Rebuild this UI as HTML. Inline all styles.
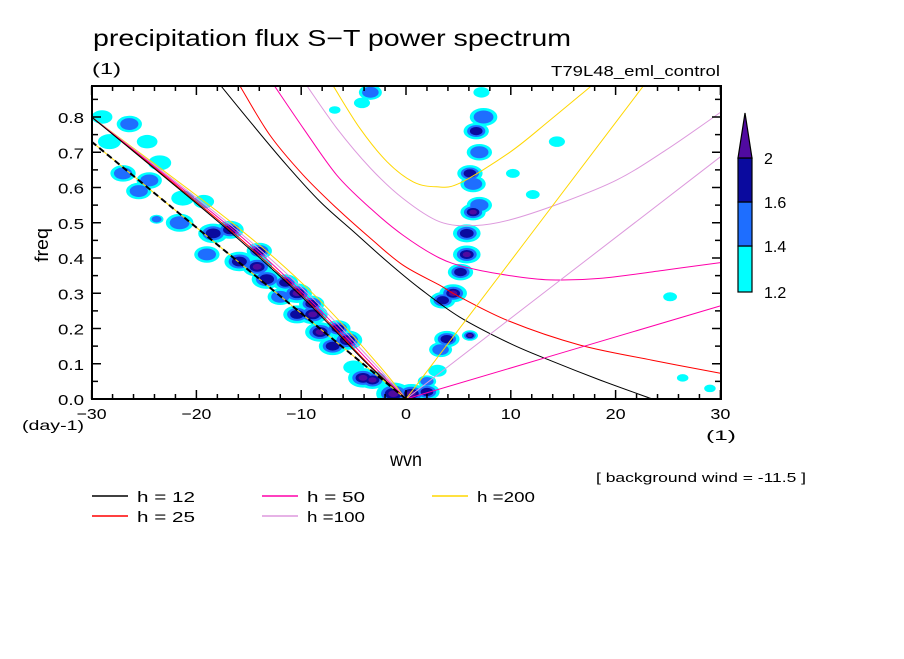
<!DOCTYPE html>
<html><head><meta charset="utf-8"><style>
body{margin:0;background:#fff;}
svg text{font-family:"Liberation Sans","DejaVu Sans",sans-serif;fill:#000;}
</style></head><body>
<svg id="chart" width="904" height="654" viewBox="0 0 904 654" xmlns="http://www.w3.org/2000/svg">
<rect width="904" height="654" fill="#fff"/>
<text x="93" y="46" font-size="23" textLength="478" lengthAdjust="spacingAndGlyphs">precipitation flux S−T power spectrum</text>
<text x="92" y="74" font-size="16" textLength="29" lengthAdjust="spacingAndGlyphs">(1)</text>
<text x="551" y="76" font-size="15" textLength="169" lengthAdjust="spacingAndGlyphs">T79L48_eml_control</text>
<clipPath id="pc"><rect x="92" y="86" width="629" height="313"/></clipPath>
<g id="blobs" clip-path="url(#pc)"></g>
<g id="curves" clip-path="url(#pc)"></g>
<g id="axes"></g>
<text x="48" y="245" font-size="18" transform="rotate(-90 48 245)" text-anchor="middle" textLength="34" lengthAdjust="spacingAndGlyphs">freq</text>
<text x="22" y="430" font-size="14" textLength="62" lengthAdjust="spacingAndGlyphs">(day-1)</text>
<text x="706" y="440" font-size="14" textLength="30" lengthAdjust="spacingAndGlyphs">(1)</text>
<text x="390" y="466" font-size="19" textLength="32" lengthAdjust="spacingAndGlyphs">wvn</text>
<text x="596" y="482" font-size="13" textLength="210" lengthAdjust="spacingAndGlyphs">[ background wind = -11.5 ]</text>
<g id="legend"></g>
<g id="colorbar"></g>
</svg>
<script>
const NS="http://www.w3.org/2000/svg";
const xTicks=[-30,-20,-10,0,10,20,30];
const yTicks=[0,0.1,0.2,0.3,0.4,0.5,0.6,0.7,0.8];
const yTickLabels=["0.0","0.1","0.2","0.3","0.4","0.5","0.6","0.7","0.8"];
const xTickLabels=["−30","−20","−10","0","10","20","30"];
// contour blobs: wavenumber, frequency, level (1..4), size
const blobK=[-29,-28.3,-26.4,-27,-24.5,-24.7,-23.5,-25.5,-21.3,-19.3,-23.8,-21.6,-18.4,-19,-16.8,-15.9,-14.2,-13.3,-12,-10.4,-10.4,-8.9,-8.2,-7,-5.6,-5,-4.1,-3.2,-1.2,0.5,2,-3.4,-4.2,-6.8,7.2,7.4,6.7,7,6.1,6.4,7,6.4,5.8,5.8,5.2,4.5,3.5,3.9,3.3,6.1,3,2,14.4,12.1,10.2,25.2,29,26.4,-11.5,-14,-9,-6.5];
const blobF=[0.8,0.73,0.78,0.64,0.62,0.73,0.67,0.59,0.57,0.56,0.51,0.5,0.47,0.41,0.48,0.39,0.375,0.34,0.29,0.3,0.24,0.24,0.19,0.15,0.167,0.09,0.06,0.054,0.015,0.015,0.02,0.87,0.84,0.82,0.87,0.8,0.76,0.7,0.64,0.61,0.55,0.53,0.47,0.41,0.36,0.3,0.28,0.17,0.14,0.18,0.08,0.05,0.73,0.58,0.64,0.29,0.03,0.06,0.33,0.42,0.27,0.2];
const blobLvl=[1,1,2,2,2,1,1,2,1,1,2,2,3,2,3,3,4,3,2,4,3,4,4,3,4,1,4,4,4,4,3,2,1,1,1,2,3,2,3,2,2,4,3,4,3,4,3,3,2,4,1,2,1,1,1,1,1,1,3,3,3,3];
const blobSize=[9,10,11,11,11,9,10,11,10,9,6,12,13,11,12,13,13,13,11,13,12,13,13,12,13,9,13,12,15,13,11,10,7,5,7,12,11,11,11,11,11,11,12,12,11,12,11,11,10,7,8,8,7,6,6,6,5,5,11,11,11,11];
// dispersion curves
const h12UpK=[-17.6,-14.6,-11.4,-8.2,-5,-1.8,1.3,5.1,9.9,13.7,18.5,23.5,25];
const h12UpF=[0.886,0.777,0.664,0.56,0.475,0.39,0.314,0.233,0.158,0.11,0.054,0,-0.015];
const h25UpK=[-15.8,-13,-9.8,-6.6,-3.4,-0.3,3.2,5.1,9.9,16.6,23.5,30];
const h25UpF=[0.886,0.749,0.635,0.541,0.456,0.38,0.323,0.29,0.22,0.153,0.11,0.073];
const h50UpK=[-12.5,-9.8,-6.6,-3.4,-0.3,3.2,6,9.9,13.7,18.5,24.8,30];
const h50UpF=[0.886,0.768,0.635,0.541,0.465,0.4,0.372,0.35,0.338,0.342,0.366,0.387];
const h100UpK=[-9.4,-6.6,-3.4,-0.3,3.2,6.5,9.9,14.7,20.1,24.8,30];
const h100UpF=[0.886,0.768,0.655,0.569,0.503,0.492,0.508,0.555,0.621,0.706,0.813];
const h200UpK=[-6.9,-4.4,-1.8,0.7,2.9,5.1,9.9,13.7,17.6];
const h200UpF=[0.886,0.768,0.673,0.616,0.602,0.612,0.7,0.79,0.886];
const kelvinK=[0,30];
const h50KelF=[0,0.264];
const h100KelF=[0,0.687];
const h200KelK=[0,22.6];
const h200KelF=[0,0.886];
const westK=[-30,-17.8,-10.3,-3.7,0];
const h12WestF=[0.8,0.5,0.3,0.1,0];
const h25WestK=[-30,-17.6,-10.1,-3.6,0];
const h50WestK=[-30,-17.3,-9.8,-3.3,0];
const h100WestK=[-30,-17,-9.4,-3,0];
const h200WestK=[-30,-16.6,-8.9,-2.7,0];
const advK=[-30,0];
const advF=[0.73,0];
const levels=[1.2,1.4,1.6,2];
const levelColors=["#00ffff","#1e6eff","#0a0a9e","#500aa0"];

const X=k=>406+k*10.48;
const Y=f=>399-f*352.5;
function mk(tag,attrs,parent){const e=document.createElementNS(NS,tag);for(const a in attrs)e.setAttribute(a,attrs[a]);parent.appendChild(e);return e;}

const bg=document.getElementById('blobs');
for(let L=1;L<=4;L++){
  const scale=[0,1,0.72,0.5,0.3][L];
  for(let i=0;i<blobK.length;i++){
    if(blobLvl[i]<L)continue;
    const e=mk('ellipse',{cx:X(blobK[i]),cy:Y(blobF[i]),rx:blobSize[i]*scale*1.15,ry:blobSize[i]*scale*0.75,fill:levelColors[L-1]},bg);
    
    
  }
}
const cg=document.getElementById('curves');
function line(ks,fs,color,w,dash,name){
  const P=ks.map((k,i)=>[X(k),Y(fs[i])]);
  let d='M'+P[0][0].toFixed(1)+' '+P[0][1].toFixed(1);
  for(let i=0;i<P.length-1;i++){
    const p0=P[Math.max(i-1,0)],p1=P[i],p2=P[i+1],p3=P[Math.min(i+2,P.length-1)];
    const c1=[p1[0]+(p2[0]-p0[0])/6,p1[1]+(p2[1]-p0[1])/6];
    const c2=[p2[0]-(p3[0]-p1[0])/6,p2[1]-(p3[1]-p1[1])/6];
    d+=' C'+c1[0].toFixed(1)+' '+c1[1].toFixed(1)+' '+c2[0].toFixed(1)+' '+c2[1].toFixed(1)+' '+p2[0].toFixed(1)+' '+p2[1].toFixed(1);
  }
  const p=mk('path',{d:d,fill:'none',stroke:color,'stroke-width':w},cg);
  if(dash)p.setAttribute('stroke-dasharray',dash);
  
  
}
const C={h12:'#000000',h25:'#ff0000',h50:'#ff00aa',h100:'#dd99dd',h200:'#ffd700'};
line(h200WestK,h12WestF,C.h200,1,null,'h200-rossby');
line(h100WestK,h12WestF,C.h100,1,null,'h100-rossby');
line(h50WestK,h12WestF,C.h50,1,null,'h50-rossby');
line(h25WestK,h12WestF,C.h25,1,null,'h25-rossby');
line(westK,h12WestF,C.h12,1,null,'h12-rossby');
line(advK,advF,'#ffd700',1,null,'advection-line-under');
line(advK,advF,'#000',2,'6,4','advection-line');
line(h12UpK,h12UpF,C.h12,1,null,'h12-gravity');
line(h25UpK,h25UpF,C.h25,1,null,'h25-gravity');
line(h50UpK,h50UpF,C.h50,1,null,'h50-gravity');
line(h100UpK,h100UpF,C.h100,1,null,'h100-gravity');
line(h200UpK,h200UpF,C.h200,1,null,'h200-gravity');
line(kelvinK,h50KelF,C.h50,1,null,'h50-kelvin');
line(kelvinK,h100KelF,C.h100,1,null,'h100-kelvin');
line(h200KelK,h200KelF,C.h200,1,null,'h200-kelvin');

const ag=document.getElementById('axes');
const fr=mk('rect',{x:92,y:86,width:629,height:313,fill:'none',stroke:'#000','stroke-width':2},ag);


for(let k=-30;k<=30;k+=2){
  const len=(k%10===0)?9:5;
  mk('line',{x1:X(k),x2:X(k),y1:399,y2:399-len,stroke:'#000','stroke-width':1.5},ag);
  mk('line',{x1:X(k),x2:X(k),y1:86,y2:86+len,stroke:'#000','stroke-width':1.5},ag);
}
for(let j=0;j<=17;j++){
  const f=j*0.05,len=(j%2===0)?9:6;
  mk('line',{x1:92,x2:92+len,y1:Y(f),y2:Y(f),stroke:'#000','stroke-width':1.5},ag);
  mk('line',{x1:721,x2:721-len,y1:Y(f),y2:Y(f),stroke:'#000','stroke-width':1.5},ag);
}
yTicks.forEach((f,i)=>{const t=mk('text',{x:58,y:Y(f)+6,'font-size':15,textLength:26,lengthAdjust:'spacingAndGlyphs'},ag);t.textContent=yTickLabels[i];

});
xTicks.forEach((k,i)=>{const w=xTickLabels[i].length*10;const t=mk('text',{x:X(k)-w/2,y:419,'font-size':15,textLength:w,lengthAdjust:'spacingAndGlyphs'},ag);t.textContent=xTickLabels[i];

});

const lg=document.getElementById('legend');
const legNames=["h = 12","h = 25","h = 50","h =100","h =200"];
const legColors=[C.h12,C.h25,C.h50,C.h100,C.h200];
const legPos=[[92,496],[92,516],[262,496],[262,516],[432,496]];
legNames.forEach((n,i)=>{
  const g=mk('g',{},lg);
  
  
  const [x,y]=legPos[i];
  mk('line',{x1:x,x2:x+36,y1:y,y2:y,stroke:legColors[i],'stroke-width':1.5},g);
  const t=mk('text',{x:x+45,y:y+6,'font-size':15,textLength:58,lengthAdjust:'spacingAndGlyphs'},g);t.textContent=n;
});

const cb=document.getElementById('colorbar');
const cbY=[292,246,202,158];
for(let i=0;i<3;i++){
  mk('rect',{x:738,y:cbY[i+1],width:14,height:cbY[i]-cbY[i+1],fill:levelColors[i],stroke:'#000','stroke-width':1.2},cb);
}
mk('polygon',{points:'738,158 752,158 745,113',fill:levelColors[3],stroke:'#000','stroke-width':1.2},cb);
levels.forEach((v,i)=>{const s=String(v);const t=mk('text',{x:764,y:cbY[i]+6,'font-size':16},cb);t.textContent=s;

});
</script>
</body></html>
